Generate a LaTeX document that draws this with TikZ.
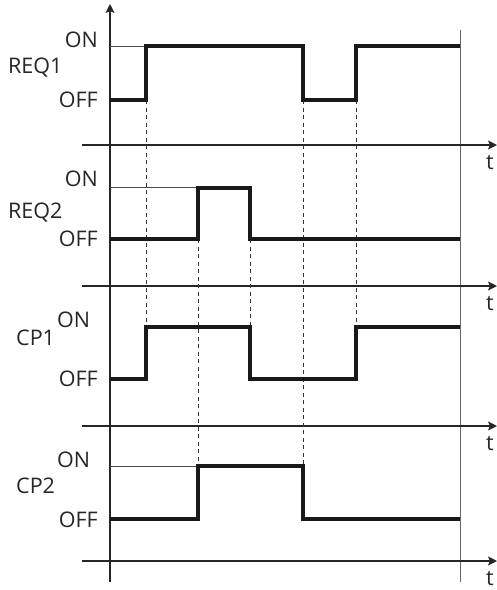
\documentclass[tikz,border=0pt]{standalone}
\usepackage{fontspec}
\setmainfont{Open Sans}
\usetikzlibrary{arrows.meta}
\begin{document}
\begin{tikzpicture}[x=1pt,y=-1pt,
  lbl/.style={font=\fontsize{21.5}{23}\selectfont, inner sep=0pt, text=black!85},
  axisline/.style={line width=1.4pt, draw=black!85, -{Stealth[length=9pt,width=9pt,inset=2pt]}},
  thinref/.style={line width=0.6pt, draw=black!70},
  frameline/.style={line width=0.9pt, draw=black!60},
  sig/.style={line width=3.6pt, draw=black!90, line join=miter},
  guide/.style={line width=0.8pt, draw=black!80, dash pattern=on 4pt off 3.5pt}
]
\useasboundingbox (0,0) rectangle (497,590);

% vertical axis and right frame line
\coordinate (vbot) at (110,582);
\coordinate (vtop) at (110,4);
\draw[axisline] (vbot) -- (vtop);
\coordinate (rtop) at (460,30);
\coordinate (rbot) at (460,582);
\draw[frameline] (rtop) -- (rbot);

% time axes
\foreach \y/\n in {145/a,286/b,426/c,561/d}{
  \coordinate (ax\n s) at (82,\y);
  \coordinate (ax\n e) at (497,\y);
  \draw[axisline] (ax\n s) -- (ax\n e);
  \node[lbl, anchor=base] (t\n) at (490,\y+24) {t};
}

% thin ON reference lines
\coordinate (r1a) at (110,46);  \coordinate (r1b) at (146,46);
\draw[thinref] (r1a) -- (r1b);
\coordinate (r2a) at (110,187); \coordinate (r2b) at (198,187);
\draw[thinref] (r2a) -- (r2b);
\coordinate (r4a) at (110,466); \coordinate (r4b) at (198,466);
\draw[thinref] (r4a) -- (r4b);

% dashed guide lines
\coordinate (d1a) at (146,100); \coordinate (d1b) at (146,327);
\coordinate (d2a) at (198,239); \coordinate (d2b) at (198,466);
\coordinate (d3a) at (250,239); \coordinate (d3b) at (250,327);
\coordinate (d4a) at (303,100); \coordinate (d4b) at (303,466);
\coordinate (d5a) at (356,100); \coordinate (d5b) at (356,327);
\foreach \i in {1,...,5} \draw[guide] (d\i a) -- (d\i b);

% signals
\draw[sig] (110,100) -- (146,100) -- (146,46) -- (303,46) -- (303,100) -- (356,100) -- (356,46) -- (460,46);
\draw[sig] (110,239) -- (198,239) -- (198,188) -- (250,188) -- (250,239) -- (460,239);
\draw[sig] (110,379) -- (146,379) -- (146,327) -- (250,327) -- (250,379) -- (356,379) -- (356,327) -- (460,327);
\draw[sig] (110,519) -- (198,519) -- (198,466) -- (303,466) -- (303,519) -- (460,519);

% labels
\node[lbl, anchor=base east] (on1) at (98,47) {ON};
\node[lbl, anchor=base west] (n1) at (8,73) {REQ1};
\node[lbl, anchor=base east] (off1) at (98,107) {OFF};

\node[lbl, anchor=base east] (on2) at (98,186) {ON};
\node[lbl, anchor=base west] (n2) at (8,218) {REQ2};
\node[lbl, anchor=base east] (off2) at (98,246) {OFF};

\node[lbl, anchor=base west] (on3) at (57,327) {ON};
\node[lbl, anchor=base west] (n3) at (16,345) {CP1};
\node[lbl, anchor=base east] (off3) at (98,386) {OFF};

\node[lbl, anchor=base west] (on4) at (57,467) {ON};
\node[lbl, anchor=base west] (n4) at (16,493) {CP2};
\node[lbl, anchor=base east] (off4) at (98,527) {OFF};
\end{tikzpicture}
\end{document}
